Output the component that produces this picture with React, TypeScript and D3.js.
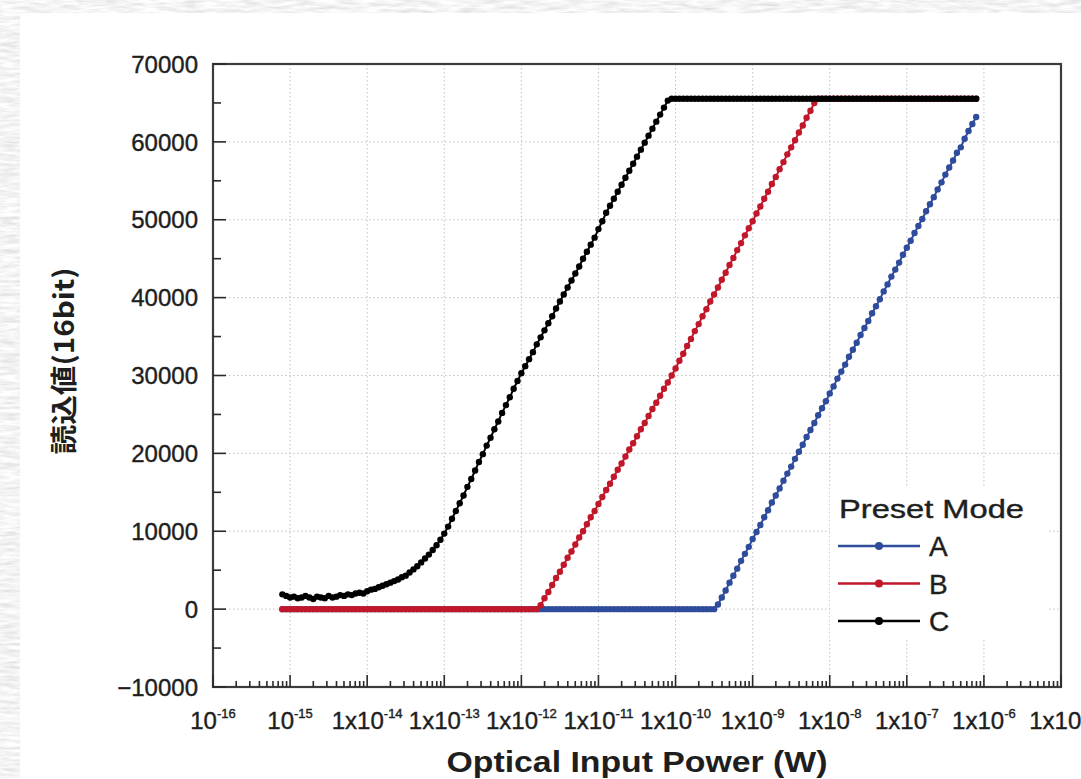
import React, { useEffect, useRef } from 'react';
import * as d3 from 'd3';

// log10 of the optical input power (W) for every reading of the sweep
const powerExp = [
  -15.1, -15.05, -15, -14.95, -14.9, -14.85, -14.8, -14.75, -14.7, -14.65,
  -14.6, -14.55, -14.5, -14.45, -14.4, -14.35, -14.3, -14.25, -14.2, -14.15,
  -14.1, -14.05, -14, -13.95, -13.9, -13.85, -13.8, -13.75, -13.7, -13.65,
  -13.6, -13.55, -13.5, -13.45, -13.4, -13.35, -13.3, -13.25, -13.2, -13.15,
  -13.1, -13.05, -13, -12.95, -12.9, -12.85, -12.8, -12.75, -12.7, -12.65,
  -12.6, -12.55, -12.5, -12.45, -12.4, -12.35, -12.3, -12.25, -12.2, -12.15,
  -12.1, -12.05, -12, -11.95, -11.9, -11.85, -11.8, -11.75, -11.7, -11.65,
  -11.6, -11.55, -11.5, -11.45, -11.4, -11.35, -11.3, -11.25, -11.2, -11.15,
  -11.1, -11.05, -11, -10.95, -10.9, -10.85, -10.8, -10.75, -10.7, -10.65,
  -10.6, -10.55, -10.5, -10.45, -10.4, -10.35, -10.3, -10.25, -10.2, -10.15,
  -10.1, -10.05, -10, -9.95, -9.9, -9.85, -9.8, -9.75, -9.7, -9.65,
  -9.6, -9.55, -9.5, -9.45, -9.4, -9.35, -9.3, -9.25, -9.2, -9.15,
  -9.1, -9.05, -9, -8.95, -8.9, -8.85, -8.8, -8.75, -8.7, -8.65,
  -8.6, -8.55, -8.5, -8.45, -8.4, -8.35, -8.3, -8.25, -8.2, -8.15,
  -8.1, -8.05, -8, -7.95, -7.9, -7.85, -7.8, -7.75, -7.7, -7.65,
  -7.6, -7.55, -7.5, -7.45, -7.4, -7.35, -7.3, -7.25, -7.2, -7.15,
  -7.1, -7.05, -7, -6.95, -6.9, -6.85, -6.8, -6.75, -6.7, -6.65,
  -6.6, -6.55, -6.5, -6.45, -6.4, -6.35, -6.3, -6.25, -6.2, -6.15,
  -6.1,
];

// 16bit readout, one value per powerExp entry
const modeA = [
  0, 0, 0, 0, 0, 0, 0, 0, 0, 0, 0, 0, 0, 0, 0, 0, 0, 0, 0, 0,
  0, 0, 0, 0, 0, 0, 0, 0, 0, 0, 0, 0, 0, 0, 0, 0, 0, 0, 0, 0,
  0, 0, 0, 0, 0, 0, 0, 0, 0, 0, 0, 0, 0, 0, 0, 0, 0, 0, 0, 0,
  0, 0, 0, 0, 0, 0, 0, 0, 0, 0, 0, 0, 0, 0, 0, 0, 0, 0, 0, 0,
  0, 0, 0, 0, 0, 0, 0, 0, 0, 0, 0, 0, 0, 0, 0, 0, 0, 0, 0, 0,
  0, 0, 0, 0, 0, 0, 0, 0, 0, 0,
  0, 0, 0, 600, 1500, 2400, 3400, 4300, 5200, 6200,
  7100, 8000, 9000, 9900, 10800, 11800, 12700, 13700, 14600, 15500,
  16500, 17400, 18300, 19300, 20200, 21100, 22100, 23000, 23900, 24900,
  25800, 26700, 27700, 28600, 29600, 30500, 31400, 32400, 33300, 34200,
  35200, 36100, 37000, 38000, 38900, 39800, 40800, 41700, 42700, 43600,
  44500, 45500, 46400, 47300, 48300, 49200, 50100, 51100, 52000, 52900,
  53900, 54800, 55800, 56700, 57600, 58600, 59300, 60400, 61400, 62300,
  63200,
];

const modeB = [
  0, 0, 0, 0, 0, 0, 0, 0, 0, 0, 0, 0, 0, 0, 0, 0, 0, 0, 0, 0,
  0, 0, 0, 0, 0, 0, 0, 0, 0, 0, 0, 0, 0, 0, 0, 0, 0, 0, 0, 0,
  0, 0, 0, 0, 0, 0, 0, 0, 0, 0, 0, 0, 0, 0, 0, 0, 0, 0, 0, 0,
  0, 0, 0, 0, 0, 0, 0, 500, 1400, 2200,
  3100, 4000, 4800, 5700, 6600, 7400, 8300, 9200, 10000, 10900,
  11800, 12600, 13500, 14400, 15300, 16100, 17000, 17900, 18700, 19600,
  20500, 21300, 22200, 23100, 23900, 24800, 25700, 26500, 27400, 28300,
  29100, 30000, 30900, 31900, 32800, 33800, 34700, 35700, 36600, 37600,
  38500, 39500, 40400, 41300, 42300, 43200, 44200, 45100, 46100, 47000,
  48000, 48900, 49800, 50800, 51700, 52700, 53600, 54600, 55500, 56500,
  57400, 58400, 59300, 60200, 61200, 62100, 63100, 64000, 65000, 65535,
  65535, 65535, 65535, 65535, 65535, 65535, 65535, 65535, 65535, 65535,
  65535, 65535, 65535, 65535, 65535, 65535, 65535, 65535, 65535, 65535,
  65535, 65535, 65535, 65535, 65535, 65535, 65535, 65535, 65535, 65535,
  65535, 65535, 65535, 65535, 65535, 65535, 65535, 65535, 65535, 65535,
  65535,
];

const modeC = [
  1900, 1700, 1500, 1600, 1400, 1500, 1700, 1500, 1300, 1600,
  1500, 1400, 1700, 1500, 1600, 1800, 1700, 1900, 1800, 2000,
  2100, 2000, 2300, 2500, 2600, 2800, 3000, 3200, 3400, 3600,
  3800, 4100, 4300, 4700, 5100, 5500, 6000, 6500, 7000, 7600,
  8200, 8900, 9700, 10600, 11600, 12600, 13600, 14600, 15700, 16700,
  17800, 18900, 19900, 21000, 22000, 23100, 24100, 25200, 26200, 27200,
  28300, 29300, 30300, 31200, 32100, 33000, 34000, 34900, 35800, 36700,
  37600, 38600, 39500, 40400, 41300, 42200, 43100, 44000, 45000, 45900,
  46800, 47700, 48800, 49800, 50900, 51800, 52700, 53600, 54500, 55400,
  56300, 57200, 58100, 59000, 59900, 60800, 61700, 62600, 63500, 64400,
  65300, 65535, 65535, 65535, 65535, 65535, 65535, 65535, 65535, 65535,
  65535, 65535, 65535, 65535, 65535, 65535, 65535, 65535, 65535, 65535,
  65535, 65535, 65535, 65535, 65535, 65535, 65535, 65535, 65535, 65535,
  65535, 65535, 65535, 65535, 65535, 65535, 65535, 65535, 65535, 65535,
  65535, 65535, 65535, 65535, 65535, 65535, 65535, 65535, 65535, 65535,
  65535, 65535, 65535, 65535, 65535, 65535, 65535, 65535, 65535, 65535,
  65535, 65535, 65535, 65535, 65535, 65535, 65535, 65535, 65535, 65535,
  65535, 65535, 65535, 65535, 65535, 65535, 65535, 65535, 65535, 65535,
  65535,
];

const seriesNames = ['A', 'B', 'C'];
const seriesColors = ['#2f4b9b', '#c0182a', '#000000'];

const yTicks = [-10000, 0, 10000, 20000, 30000, 40000, 50000, 60000, 70000];
const yMinorTicks = [-5000, 5000, 15000, 25000, 35000, 45000, 55000, 65000];
const xTickExp = [-16, -15, -14, -13, -12, -11, -10, -9, -8, -7, -6, -5];
const xTickBase = ['10', '10', '1x10', '1x10', '1x10', '1x10', '1x10', '1x10', '1x10', '1x10', '1x10', '1x10'];

const xTitle = 'Optical Input Power (W)';
const yTitle = '読込値(16bit)';
const legendTitle = 'Preset Mode';

const W = 1081;
const H = 779;
const LATIN = '"Liberation Sans", Arial, sans-serif';
const INK = '#1e1e1e';

function ResponseChart() {
  const ref = useRef<SVGSVGElement>(null);

  useEffect(() => {
    const svg = d3.select(ref.current);
    svg.selectAll('*').remove();

    const x = d3.scaleLog().domain([1e-16, 1e-5]).range([213, 1061]);
    const y = d3.scaleLinear().domain([-10000, 70000]).range([687, 64]);
    const [x0, x1] = x.range();
    const [y0, y1] = y.range();

    // paper-like background around the white sheet
    const defs = svg.append('defs');
    const f = defs.append('filter').attr('id', 'paper').attr('x', 0).attr('y', 0).attr('width', 1).attr('height', 1);
    f.append('feTurbulence').attr('type', 'fractalNoise').attr('baseFrequency', '0.05 0.3').attr('numOctaves', 3).attr('seed', 7);
    f.append('feColorMatrix').attr('type', 'matrix')
      .attr('values', '0.45 0 0 0 0.68  0.45 0 0 0 0.68  0.45 0 0 0 0.68  0 0 0 0 1');
    svg.append('rect').attr('width', W).attr('height', H).attr('fill', '#e6e6e6').attr('filter', 'url(#paper)');
    svg.append('rect').attr('x', 20).attr('y', 13).attr('width', W - 20).attr('height', H - 13).attr('fill', '#ffffff');

    // grid
    const grid = svg.append('g').attr('stroke', '#c2c2c2').attr('stroke-width', 1).attr('stroke-dasharray', '1.5,2.5');
    grid.selectAll('line.v').data(xTickExp.slice(1, -1)).join('line')
      .attr('x1', (e) => x(10 ** e)).attr('x2', (e) => x(10 ** e)).attr('y1', y1).attr('y2', y0);
    grid.selectAll('line.h').data(yTicks.slice(1, -1)).join('line')
      .attr('x1', x0).attr('x2', x1).attr('y1', (v) => y(v)).attr('y2', (v) => y(v));

    // legend box hides the grid behind it
    svg.append('rect').attr('x', 830).attr('y', 486).attr('width', 218).attr('height', 152).attr('fill', '#ffffff');

    // data series
    const series = [modeA, modeB, modeC];
    const line = d3.line<number>().x((_, i) => x(10 ** powerExp[i])).y((d) => y(d));
    const plot = svg.append('g');
    series.forEach((vals, k) => {
      plot.append('path').datum(vals).attr('d', line)
        .attr('fill', 'none').attr('stroke', seriesColors[k]).attr('stroke-width', 2);
      plot.append('g').attr('fill', seriesColors[k])
        .selectAll('circle').data(vals).join('circle')
        .attr('cx', (_, i) => x(10 ** powerExp[i]))
        .attr('cy', (d) => y(d))
        .attr('r', 3.2);
    });

    // frame
    svg.append('rect').attr('x', x0).attr('y', y1).attr('width', x1 - x0).attr('height', y0 - y1)
      .attr('fill', 'none').attr('stroke', '#3c3c3c').attr('stroke-width', 2.2);

    // ticks (inside)
    const ticks = svg.append('g').attr('stroke', '#2a2a2a').attr('stroke-width', 1.6);
    ticks.selectAll('line.ym').data(yTicks).join('line')
      .attr('x1', x0).attr('x2', x0 + 13).attr('y1', (v) => y(v)).attr('y2', (v) => y(v));
    ticks.selectAll('line.yn').data(yMinorTicks).join('line')
      .attr('x1', x0).attr('x2', x0 + 8).attr('y1', (v) => y(v)).attr('y2', (v) => y(v));
    const xMinor = x.ticks(20).filter((v) => Math.abs(Math.log10(v) - Math.round(Math.log10(v))) > 1e-6);
    ticks.selectAll('line.xn').data(xMinor).join('line')
      .attr('x1', (v) => x(v)).attr('x2', (v) => x(v)).attr('y1', y0).attr('y2', y0 - 6);
    ticks.selectAll('line.xm').data(xTickExp).join('line')
      .attr('x1', (e) => x(10 ** e)).attr('x2', (e) => x(10 ** e)).attr('y1', y0).attr('y2', y0 - 12);

    // tick labels
    svg.append('g').attr('font-family', LATIN).attr('font-size', 24).attr('fill', INK)
      .attr('stroke', INK).attr('stroke-width', 0.4).attr('text-anchor', 'end')
      .selectAll('text').data(yTicks).join('text')
      .attr('x', 198).attr('y', (v) => y(v)).attr('dy', '0.36em')
      .text((v) => (v < 0 ? '\u2212' + Math.abs(v) : String(v)));

    const xl = svg.append('g').attr('font-family', LATIN).attr('fill', INK)
      .attr('stroke', INK).attr('stroke-width', 0.4).attr('text-anchor', 'middle')
      .selectAll('text').data(xTickExp).join('text')
      .attr('x', (e) => x(10 ** e)).attr('y', 729).attr('font-size', 24);
    xl.append('tspan').text((_, i) => xTickBase[i]);
    xl.append('tspan').attr('dy', -11).attr('font-size', 13).text((e) => String(e));

    // axis titles
    svg.append('text').attr('x', 637).attr('y', 772).attr('text-anchor', 'middle')
      .attr('font-family', LATIN).attr('font-weight', 'bold').attr('font-size', 29)
      .attr('fill', INK).attr('textLength', 381).attr('lengthAdjust', 'spacingAndGlyphs')
      .text(xTitle);
    svg.append('text').attr('transform', 'translate(62,361) rotate(-90)')
      .attr('text-anchor', 'middle').attr('dominant-baseline', 'central')
      .attr('font-family', '"Noto Sans CJK JP", sans-serif').attr('font-weight', 'bold').attr('font-size', 27)
      .attr('fill', INK).attr('textLength', 187).attr('lengthAdjust', 'spacingAndGlyphs')
      .text(yTitle);

    // legend
    const lg = svg.append('g');
    lg.append('text').attr('x', 839).attr('y', 518).attr('font-family', LATIN).attr('font-size', 26)
      .attr('fill', INK).attr('stroke', INK).attr('stroke-width', 0.4)
      .attr('textLength', 185).attr('lengthAdjust', 'spacingAndGlyphs').text(legendTitle);
    const items = lg.selectAll('g.item').data(seriesNames).join('g')
      .attr('transform', (_, i) => `translate(0, ${546 + i * 37.5})`);
    items.append('line').attr('x1', 838).attr('x2', 920).attr('y1', 0).attr('y2', 0)
      .attr('stroke', (_, i) => seriesColors[i]).attr('stroke-width', 2.6);
    items.append('circle').attr('cx', 879).attr('cy', 0).attr('r', 4).attr('fill', (_, i) => seriesColors[i]);
    items.append('text').attr('x', 929).attr('y', 10).attr('font-family', LATIN).attr('font-size', 28)
      .attr('fill', INK).attr('stroke', INK).attr('stroke-width', 0.4).text((d) => d);
  }, []);

  return (
    <svg ref={ref} width={W} height={H}
      style={{ position: 'absolute', left: 0, top: 0, display: 'block' }} />
  );
}

export default function App() {
  return <ResponseChart />;
}
